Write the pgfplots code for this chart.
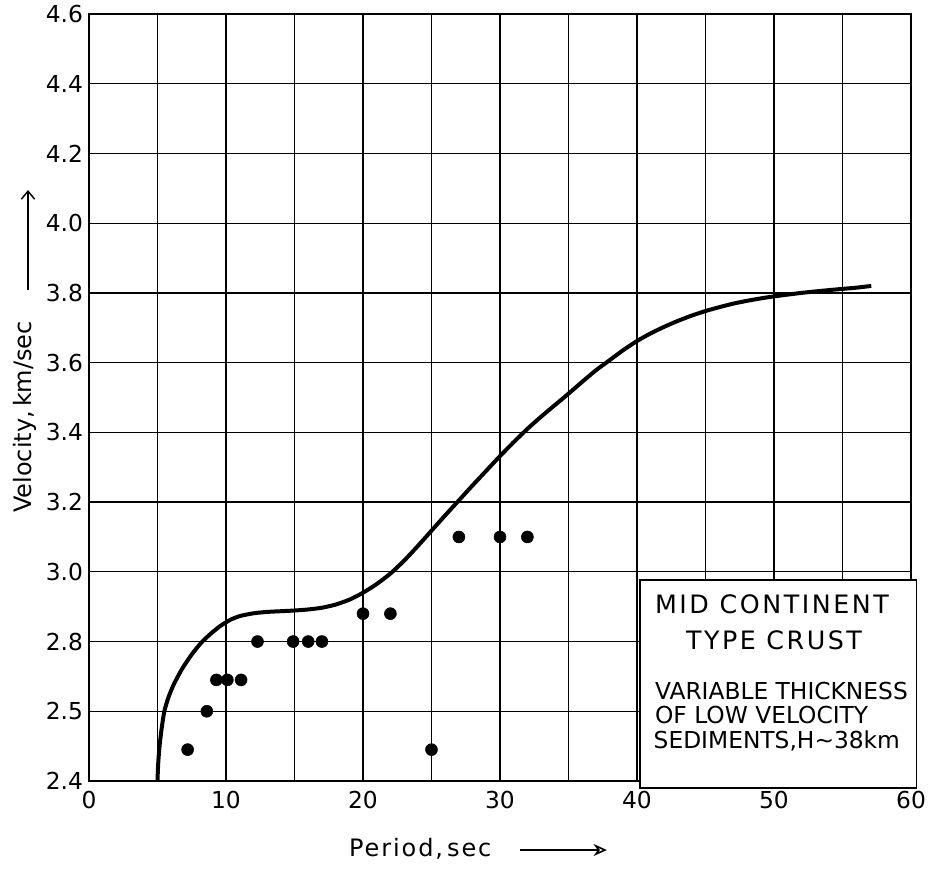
\documentclass[border=0pt]{standalone}
\usepackage{fontspec}
\setmainfont{DejaVu Sans}
\usepackage{pgfplots}
\pgfplotsset{compat=1.18}
\usetikzlibrary{arrows.meta}
\begin{document}
\begin{tikzpicture}[x=1pt,y=1pt]
\useasboundingbox (-66.75,-65.25) rectangle (629.25,585.75);
\begin{axis}[
  at={(0,0)}, anchor=south west,
  scale only axis, width=616.5pt, height=575.25pt,
  xmin=0, xmax=60, ymin=2.4, ymax=4.6,
  xtick={0,10,20,30,40,50,60},
  minor xtick={5,15,25,35,45,55},
  xticklabels={0,10,20,30,40,50,60},
  ytick={2.4,2.6,2.8,3.0,3.2,3.4,3.6,3.8,4.0,4.2,4.4,4.6},
  yticklabels={2.4,2.5,2.8,3.0,3.2,3.4,3.6,3.8,4.0,4.2,4.4,4.6},
  grid=both,
  major grid style={black, line width=1pt},
  minor grid style={black, line width=1pt},
  major tick length=0pt, minor tick length=0pt,
  axis line style={line width=1.3pt},
  tick label style={font=\fontsize{17.5}{20}\selectfont},
  xticklabel style={yshift=-4pt},
  yticklabel style={xshift=-1pt},
  clip=false,
]
\addplot[black, line width=3pt, smooth, tension=0.4] coordinates {
 (5.0,2.40) (5.05,2.45) (5.15,2.50) (5.3,2.55) (5.5,2.60) (5.8,2.64)
 (6.2,2.678) (6.8,2.722) (7.5,2.763) (8.2,2.797) (8.9,2.823) (9.6,2.845)
 (10.3,2.862) (11.0,2.873) (12.0,2.881) (13.0,2.885) (14.0,2.887)
 (15.0,2.889) (16.0,2.892) (17.0,2.897) (18.0,2.906) (19.0,2.92)
 (20.0,2.94) (21.0,2.965) (22.0,2.995) (23.0,3.032) (24.0,3.074)
 (25.0,3.118) (26.0,3.162) (27.0,3.205) (28.0,3.248) (29.0,3.29)
 (30.0,3.332) (31.0,3.372) (32.0,3.41) (33.0,3.445) (34.0,3.478)
 (35.0,3.511) (36.0,3.545) (37.0,3.578) (38.0,3.607) (39.0,3.636)
 (40.0,3.662) (41.0,3.684) (42.0,3.703) (43.0,3.72) (44.0,3.735)
 (45.0,3.748) (46.0,3.759) (47.0,3.769) (48.0,3.777) (49.0,3.784)
 (50.0,3.790) (52.0,3.800) (54.0,3.808) (56.0,3.815) (57.1,3.82)
};
\addplot[only marks, mark=*, mark size=4.5pt, black] coordinates {
 (7.2,2.49) (8.6,2.60) (9.3,2.69) (10.1,2.69) (11.1,2.69)
 (12.3,2.80) (14.9,2.80) (16.0,2.80) (17.0,2.80)
 (20.0,2.88) (22.0,2.88) (25.0,2.49)
 (27.0,3.10) (30.0,3.10) (32.0,3.10)
};
\draw[line width=1.4pt, fill=white] (axis cs:40.2,2.38) rectangle (axis cs:60.4,2.977);
\node[font=\fontsize{19}{22}\selectfont\addfontfeature{LetterSpace=10}] at (axis cs:49.85,2.908) {MID CONTINENT};
\node[font=\fontsize{19}{22}\selectfont\addfontfeature{LetterSpace=10}] at (axis cs:50.0,2.804) {TYPE CRUST};
\node[anchor=west, inner sep=0pt, font=\fontsize{17.5}{20}\selectfont] at (axis cs:41.3,2.658) {VARIABLE THICKNESS};
\node[anchor=west, inner sep=0pt, font=\fontsize{17.5}{20}\selectfont] at (axis cs:41.3,2.589) {OF LOW VELOCITY};
\node[anchor=west, inner sep=0pt, font=\fontsize{17.5}{20}\selectfont] at (axis cs:41.2,2.515) {SEDIMENTS,H\char"007E 38km};
\node[font=\fontsize{18}{21}\selectfont\addfontfeature{LetterSpace=8}] at (axis description cs:0.403,-0.0887) {Period,\,sec};
\draw[line width=1.2pt, -{Stealth[open,length=10pt,width=9pt]}] (axis description cs:0.524,-0.09) -- (axis description cs:0.630,-0.09);
\node[rotate=90, font=\fontsize{18}{21}\selectfont] at (axis description cs:-0.078,0.4746) {Velocity,\,km/sec};
\draw[line width=1.1pt, -{Straight Barb[length=6pt,width=10pt]}] (axis description cs:-0.0742,0.640) -- (axis description cs:-0.0742,0.7705);
\end{axis}
\end{tikzpicture}
\end{document}
